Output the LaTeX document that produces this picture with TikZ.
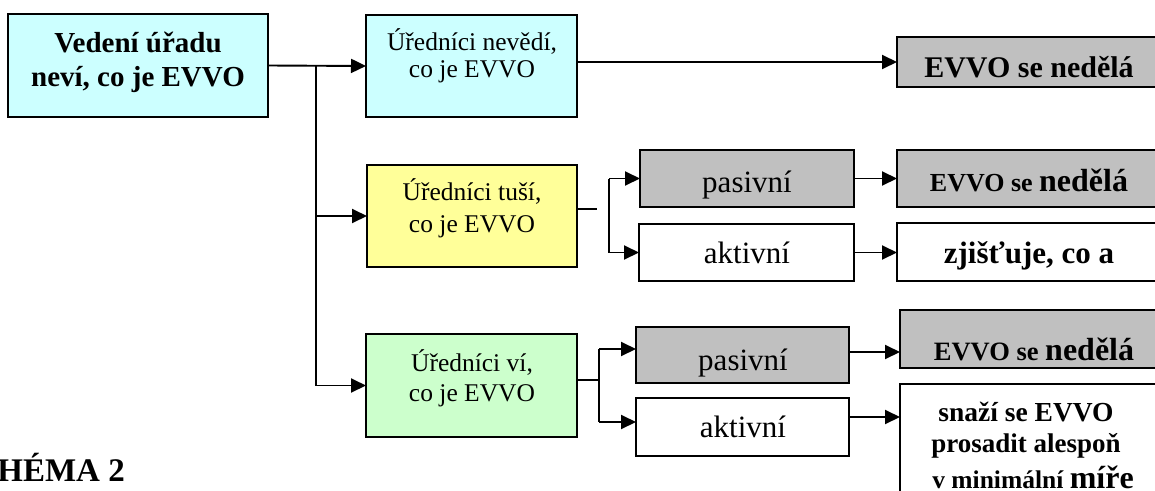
\documentclass[tikz,border=0pt]{standalone}
\usepackage{fontspec}
\setmainfont{Liberation Serif}
\usetikzlibrary{arrows.meta}
\definecolor{cyanbox}{HTML}{CCFFFF}
\definecolor{yellowbox}{HTML}{FFFF99}
\definecolor{greenbox}{HTML}{CCFFCC}
\definecolor{graybox}{HTML}{C0C0C0}
\tikzset{
  box/.style={draw=black, line width=1.7pt, inner sep=0pt, outer sep=0pt, anchor=north west},
  txt/.style={inner sep=0pt, anchor=base},
  conn/.style={line width=1.9pt},
  arr/.style={conn, -{Triangle[length=15pt,width=14pt]}},
  fbig/.style={font=\bfseries\fontsize{29}{34}\selectfont},
  fmid/.style={font=\fontsize{25.5}{30}\selectfont},
  fpa/.style={font=\fontsize{31}{36}\selectfont},
  fres/.style={font=\bfseries\fontsize{30}{36}\selectfont},
}
\begin{document}
\begin{tikzpicture}[x=1pt,y=-1pt]
\useasboundingbox (0,0) rectangle (1155,490);
\clip (0,0) rectangle (1155,490);
\fill[white] (0,0) rectangle (1155,490);
% boxes
\node[box, fill=cyanbox, minimum width=260pt, minimum height=103pt] (A) at (8,14) {};
\node[box, fill=cyanbox, minimum width=211pt, minimum height=102pt] (B) at (366,15) {};
\node[box, fill=yellowbox, minimum width=210pt, minimum height=102pt] (Y) at (367,165) {};
\node[box, fill=greenbox, minimum width=211pt, minimum height=103pt] (G) at (366,334) {};
\node[box, fill=graybox, minimum width=214pt, minimum height=57pt] (P2) at (640,150) {};
\node[box, fill=white, minimum width=215pt, minimum height=57pt] (A2) at (639,224) {};
\node[box, fill=graybox, minimum width=213pt, minimum height=56pt] (P3) at (636,327) {};
\node[box, fill=white, minimum width=213pt, minimum height=58pt] (A3) at (636,398) {};
\node[box, fill=graybox, minimum width=280pt, minimum height=50pt] (R1) at (897,37) {};
\node[box, fill=graybox, minimum width=280pt, minimum height=57pt] (R2) at (897,150) {};
\node[box, fill=white, minimum width=280pt, minimum height=58pt] (R3) at (897,223) {};
\node[box, fill=graybox, minimum width=280pt, minimum height=58pt] (R4) at (900,310) {};
\node[box, fill=white, minimum width=280pt, minimum height=140pt] (R5) at (900,384) {};
% texts
\node[txt, fbig] (At1) at (138,52) {Vedení úřadu};
\node[txt, fbig] (At2) at (138,86) {neví, co je EVVO};
\node[txt, fmid] (Bt1) at (472,50) {Úředníci nevědí,};
\node[txt, fmid] (Bt2) at (472,77) {co je EVVO};
\node[txt, fmid] (Yt1) at (472,200) {Úředníci tuší,};
\node[txt, fmid] (Yt2) at (472,232) {co je EVVO};
\node[txt, fmid] (Gt1) at (472,371) {Úředníci ví,};
\node[txt, fmid] (Gt2) at (472,401) {co je EVVO};
\node[txt, fpa] (P2t) at (747,192) {pasivní};
\node[txt, fpa] (A2t) at (747,263) {aktivní};
\node[txt, fpa] (P3t) at (743,370) {pasivní};
\node[txt, fpa] (A3t) at (743,437) {aktivní};
\node[txt, fres] (R1t) at (1029,77) {EVVO se nedělá};
\node[txt, font=\bfseries] (R2t) at (1029,191) {{\fontsize{26}{30}\selectfont EVVO se }{\fontsize{32}{36}\selectfont nedělá}};
\node[txt, font=\bfseries\fontsize{31}{36}\selectfont] (R3t) at (1029,263) {zjišťuje, co a};
\node[txt, font=\bfseries] (R4t) at (1034,360) {{\fontsize{26.5}{30}\selectfont EVVO se }{\fontsize{32}{36}\selectfont nedělá}};
\node[txt, font=\bfseries\fontsize{27.5}{30}\selectfont] (R5t1) at (1026,421) {snaží se EVVO};
\node[txt, font=\bfseries\fontsize{27}{30}\selectfont] (R5t2) at (1026,452) {prosadit alespoň};
\node[txt, font=\bfseries] (R5t3) at (1033,488) {{\fontsize{25.5}{30}\selectfont v minimální }{\fontsize{32}{36}\selectfont míře}};
\node[inner sep=0pt, anchor=base east, font=\bfseries\fontsize{33}{36}\selectfont] (S) at (125,481) {SCHÉMA 2};
% connectors
\coordinate (J) at (316,66);
\draw[arr] (A.east) -- (B.west);
\draw[conn] (J) -- (J |- G.west);
\draw[arr] (J |- Y.west) -- (Y.west);
\draw[arr] (J |- G.west) -- (G.west);
\draw[arr] (B.east |- R1.west) -- (R1.west);
% row 2 bracket
\coordinate (Y2s) at (597,209);
\coordinate (K2) at (609,216);
\draw[conn] (Y.east |- Y2s) -- (Y2s);
\draw[conn] (K2 |- P2.west) -- (K2 |- A2.west);
\draw[arr] (K2 |- P2.west) -- (P2.west);
\draw[arr] (K2 |- A2.west) -- (A2.west);
\draw[arr] (P2.east) -- (R2.west |- P2.east);
\draw[arr] (A2.east) -- (R3.west |- A2.east);
% row 3 bracket
\coordinate (K3) at (599,380);
\coordinate (K3a) at (599,349);
\coordinate (K3b) at (599,422);
\draw[conn] (G.east |- K3) -- (K3);
\draw[conn] (K3a) -- (K3b);
\draw[arr] (K3a) -- (P3.west |- K3a);
\draw[arr] (K3b) -- (A3.west |- K3b);
\coordinate (L3a) at (849,352);
\coordinate (L3b) at (849,417);
\draw[arr] (L3a) -- (R4.west |- L3a);
\draw[arr] (L3b) -- (R5.west |- L3b);
\end{tikzpicture}
\end{document}
